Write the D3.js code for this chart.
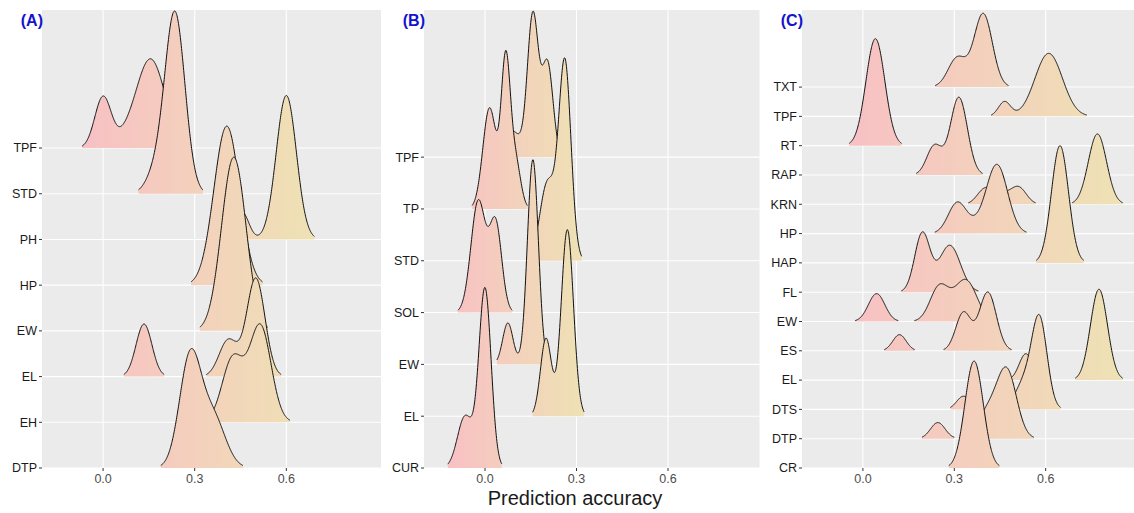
<!DOCTYPE html>
<html>
<head>
<meta charset="utf-8">
<script src="https://cdn.jsdelivr.net/npm/d3@7"></script>
<style>
	body { margin: 0; background: #fff; }
	svg { display: block; font-family: 'Liberation Sans', Arial, sans-serif; }
</style>
</head>
<body>
<svg id="chart" width="1134" height="513"></svg>
<script>
// tick values and labels
const xTicks = [0, 0.3, 0.6]
const panelNames = ['(A)', '(B)', '(C)']
const axisTitle = 'Prediction accuracy'

// categories, bottom row first
const catsA = ['DTP', 'EH', 'EL', 'EW', 'HP', 'PH', 'STD', 'TPF']
const catsB = ['CUR', 'EL', 'EW', 'SOL', 'STD', 'TP', 'TPF']
const catsC = ['CR', 'DTP', 'DTS', 'EL', 'ES', 'EW', 'FL', 'HAP', 'HP', 'KRN', 'RAP', 'RT', 'TPF', 'TXT']

// density peaks per row: [accuracy, spread, height in rows]
const peaksA = [
	[[0.285, 0.035, 2.4], [0.36, 0.04, 1.1]],
	[[0.425, 0.035, 1.4], [0.515, 0.035, 2.1]],
	[[0.134, 0.026, 1.15], [0.41, 0.03, 0.8], [0.5, 0.03, 2.15]],
	[[0.428, 0.04, 3.8]],
	[[0.405, 0.042, 3.48]],
	[[0.455, 0.022, 0.6], [0.6, 0.033, 3.15]],
	[[0.17, 0.03, 0.4], [0.235, 0.033, 3.96]],
	[[0.0, 0.027, 1.12], [0.07, 0.03, 0.12], [0.155, 0.048, 1.95]]
]
const peaksB = [
	[[-0.065, 0.025, 1.0], [0.0, 0.02, 3.45]],
	[[0.2, 0.018, 1.5], [0.27, 0.02, 3.6]],
	[[0.075, 0.017, 0.8], [0.157, 0.018, 3.95]],
	[[-0.022, 0.024, 2.15], [0.035, 0.02, 1.7]],
	[[0.205, 0.025, 1.5], [0.262, 0.02, 3.8]],
	[[0.015, 0.022, 1.95], [0.068, 0.015, 2.8], [0.1, 0.017, 0.9]],
	[[0.09, 0.025, 0.5], [0.157, 0.018, 2.75], [0.205, 0.018, 1.8]]
]
const peaksC = [
	[[0.365, 0.03, 3.65]],
	[[0.246, 0.024, 0.55], [0.41, 0.035, 0.9], [0.473, 0.032, 2.25]],
	[[0.33, 0.022, 0.45], [0.53, 0.03, 0.9], [0.58, 0.025, 3.0]],
	[[0.535, 0.022, 0.9], [0.775, 0.028, 3.1]],
	[[0.12, 0.022, 0.55], [0.33, 0.025, 1.3], [0.41, 0.028, 2.0]],
	[[0.045, 0.027, 0.95], [0.25, 0.03, 1.15], [0.295, 0.03, 0.2], [0.34, 0.035, 1.35]],
	[[0.195, 0.025, 2.0], [0.285, 0.035, 1.6]],
	[[0.647, 0.028, 4.0]],
	[[0.31, 0.03, 1.05], [0.37, 0.03, 0.2], [0.44, 0.035, 2.35]],
	[[0.4, 0.025, 0.5], [0.455, 0.03, 0.35], [0.512, 0.025, 0.55], [0.77, 0.03, 2.4]],
	[[0.235, 0.025, 1.0], [0.315, 0.028, 2.65]],
	[[0.041, 0.031, 3.65]],
	[[0.465, 0.02, 0.5], [0.61, 0.045, 2.15]],
	[[0.31, 0.03, 1.0], [0.395, 0.03, 2.5]]
]

// panel placement
const panels = [
	{ name: panelNames[0], cats: catsA, peaks: peaksA, left: 42, right: 381, xMax: 0.91, yTop: 10.02 },
	{ name: panelNames[1], cats: catsB, peaks: peaksB, left: 424, right: 759.5, xMax: 0.9, yTop: 8.84 },
	{ name: panelNames[2], cats: catsC, peaks: peaksC, left: 802, right: 1134, xMax: 0.89, yTop: 15.63 }
]
const plotTop = 10
const plotBottom = 468
const xMin = -0.2

const lowColor = '#f8c0c4'
const highColor = '#eee2b4'

const svg = d3.select('#chart')

const densityAt = (peaks, x) => d3.sum(peaks, (p) => p[2] * Math.exp(-((x - p[0]) ** 2) / (2 * p[1] ** 2)))

// split a row's density into the parts above the cut-off height
const rowSegments = (peaks) => {
	const pts = d3.range(xMin, 0.95, 0.001).map((x) => [x, densityAt(peaks, x)])
	const cut = d3.max(pts, (d) => d[1]) * 0.02
	const segs = []
	let cur = null
	pts.forEach((p) => {
		if (p[1] > cut) {
			if (!cur) { cur = []; segs.push(cur) }
			cur.push(p)
		} else {
			cur = null
		}
	})
	return segs
}

panels.forEach((panel, pi) => {
	const x = d3.scaleLinear().domain([xMin, panel.xMax]).range([panel.left, panel.right])
	const y = d3.scaleLinear().domain([0, panel.yTop]).range([plotBottom, plotTop])

	const g = svg.append('g')

	// background and grid
	g.append('rect')
		.attr('x', panel.left).attr('y', plotTop)
		.attr('width', panel.right - panel.left).attr('height', plotBottom - plotTop)
		.attr('fill', '#ebebeb')

	g.selectAll('.hgrid')
		.data(panel.cats)
		.enter()
		.append('line')
		.attr('x1', panel.left).attr('x2', panel.right)
		.attr('y1', (d, i) => y(i)).attr('y2', (d, i) => y(i))
		.attr('stroke', '#fff').attr('stroke-width', 1.1)

	g.selectAll('.vgrid')
		.data(xTicks)
		.enter()
		.append('line')
		.attr('x1', (d) => x(d)).attr('x2', (d) => x(d))
		.attr('y1', plotTop).attr('y2', plotBottom)
		.attr('stroke', '#fff').attr('stroke-width', 1.1)

	// clip and gradient
	const clipId = 'clip' + pi
	const defs = svg.append('defs')
	defs.append('clipPath').attr('id', clipId)
		.append('rect')
		.attr('x', panel.left).attr('y', plotTop)
		.attr('width', panel.right - panel.left).attr('height', plotBottom - plotTop)

	const rows = panel.peaks.map((peaks) => rowSegments(peaks))
	const allX = rows.flat(2).map((p) => p[0])
	const gradId = 'grad' + pi
	const grad = defs.append('linearGradient').attr('id', gradId)
		.attr('gradientUnits', 'userSpaceOnUse')
		.attr('x1', x(d3.min(allX))).attr('x2', x(d3.max(allX)))
		.attr('y1', 0).attr('y2', 0)
	grad.append('stop').attr('offset', 0).attr('stop-color', lowColor)
	grad.append('stop').attr('offset', 1).attr('stop-color', highColor)

	const ridges = g.append('g').attr('clip-path', `url(#${clipId})`)

	// top rows first so lower rows sit in front
	for (let i = rows.length - 1; i >= 0; i--) {
		const area = d3.area()
			.x((d) => x(d[0]))
			.y0(y(i))
			.y1((d) => y(i + d[1]))
		const line = d3.line()
			.x((d) => x(d[0]))
			.y((d) => y(i + d[1]))
		rows[i].forEach((seg) => {
			ridges.append('path').attr('d', area(seg)).attr('fill', `url(#${gradId})`)
			ridges.append('path').attr('d', line(seg))
				.attr('fill', 'none').attr('stroke', '#111').attr('stroke-width', 1)
		})
	}

	// y axis
	const yAxis = g.append('g')
	panel.cats.forEach((c, i) => {
		yAxis.append('line')
			.attr('x1', panel.left - 3).attr('x2', panel.left)
			.attr('y1', y(i)).attr('y2', y(i))
			.attr('stroke', '#333').attr('stroke-width', 1)
		yAxis.append('text')
			.attr('x', panel.left - 5).attr('y', y(i))
			.attr('dy', '0.35em')
			.attr('text-anchor', 'end')
			.attr('font-size', 12.5)
			.attr('fill', '#1a1a1a')
			.text(c)
	})

	// x axis
	const xAxis = g.append('g')
	xTicks.forEach((t) => {
		xAxis.append('line')
			.attr('x1', x(t)).attr('x2', x(t))
			.attr('y1', plotBottom).attr('y2', plotBottom + 3)
			.attr('stroke', '#333').attr('stroke-width', 1)
		xAxis.append('text')
			.attr('x', x(t)).attr('y', plotBottom + 15)
			.attr('text-anchor', 'middle')
			.attr('font-size', 12.5)
			.attr('fill', '#4d4d4d')
			.text(d3.format('.1f')(t))
	})

	// panel tag
	g.append('text')
		.attr('x', panel.left + 1).attr('y', 26)
		.attr('text-anchor', 'end')
		.attr('font-size', 16)
		.attr('font-weight', 'bold')
		.attr('fill', '#1414cc')
		.text(panel.name)
})

svg.append('text')
	.attr('x', 575).attr('y', 505)
	.attr('text-anchor', 'middle')
	.attr('font-size', 20)
	.attr('fill', '#1a1a1a')
	.text(axisTitle)
</script>
</body>
</html>
